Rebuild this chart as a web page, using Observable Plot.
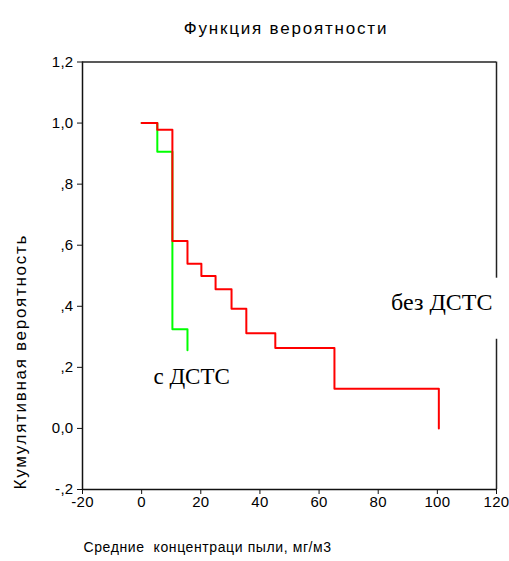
<!DOCTYPE html>
<html><head><meta charset="utf-8">
<script src="https://cdn.jsdelivr.net/npm/d3@7"></script>
<script src="https://cdn.jsdelivr.net/npm/@observablehq/plot@0.6"></script>
<style>body{margin:0;background:#fff;} #chart svg{display:block;}</style>
</head><body><div id="chart"></div>
<script>
// Series: "без ДСТС" (red) and "с ДСТС" (green), step-after survival curves
const redX = [0, 5.3, 10.4, 15.5, 20.2, 25.0, 30.4, 35.4, 45.2, 65.2, 100.5];
const redY = [1.0, 0.978, 0.614, 0.539, 0.499, 0.456, 0.392, 0.312, 0.263, 0.130, 0.0];
const greenX = [0, 5.3, 10.4, 15.5];
const greenY = [1.0, 0.906, 0.325, 0.256];
const seriesNames = ["без ДСТС", "с ДСТС"];
const xTicks = [-20, 0, 20, 40, 60, 80, 100, 120];
const xTickLabels = ["-20", "0", "20", "40", "60", "80", "100", "120"];
const yTicks = [-0.2, 0, 0.2, 0.4, 0.6, 0.8, 1.0, 1.2];
const yTickLabels = ["-,2", "0,0", ",2", ",4", ",6", ",8", "1,0", "1,2"];
const titleText = "Функция вероятности";
const xLabel = "Средние  концентраци пыли, мг/м3";
const yLabel = "Кумулятивная вероятность";

const red = redX.map((x, i) => ({x, y: redY[i]}));
const green = greenX.map((x, i) => ({x, y: greenY[i]}));
const xFmt = d => xTickLabels[xTicks.indexOf(d)];
const yFmt = d => yTickLabels[yTicks.findIndex(t => Math.abs(t - d) < 1e-9)];
const sans = "'Liberation Sans', Arial, sans-serif";
const serif = "'Liberation Serif', 'Times New Roman', serif";

const plot = Plot.plot({
  width: 509, height: 561,
  marginLeft: 82, marginRight: 13, marginTop: 61.5, marginBottom: 72,
  style: {fontFamily: sans, background: "#fff"},
  x: {domain: [-20, 120]},
  y: {domain: [-0.2, 1.2]},
  marks: [
    Plot.axisX({ticks: xTicks, tickFormat: xFmt, tickSize: 5, tickPadding: 2, label: null, fontSize: 15, stroke: "#111"}),
    Plot.axisY({ticks: yTicks, tickFormat: yFmt, tickSize: 5, tickPadding: 4, label: null, fontSize: 15, stroke: "#111"}),
    Plot.ruleY([-0.2], {stroke: "#111", strokeWidth: 1.5}),
    Plot.ruleX([-20], {stroke: "#111", strokeWidth: 1.5}),
    Plot.ruleY([1.2], {stroke: "#222", strokeWidth: 1.5}),
    Plot.ruleX([120], {y1: -0.2, y2: 0.292, stroke: "#222", strokeWidth: 1.5}),
    Plot.ruleX([120], {y1: 0.492, y2: 1.2, stroke: "#222", strokeWidth: 1.5}),
    Plot.line(green, {x: "x", y: "y", curve: "step-after", stroke: "#00ff00", strokeWidth: 2}),
    Plot.line(red, {x: "x", y: "y", curve: "step-after", stroke: "#ff0000", strokeWidth: 2}),
    Plot.text([seriesNames[0]], {x: 101.5, y: 0.414, text: d => d, fontFamily: serif, fontSize: 24, fill: "#000"}),
    Plot.text([seriesNames[1]], {x: 16.9, y: 0.171, text: d => d, fontFamily: serif, fontSize: 23, fill: "#000"}),
    Plot.text([titleText], {frameAnchor: "top", dx: -3.5, dy: -33, text: d => d, fontSize: 17, fill: "#000", lineAnchor: "middle"}),
    Plot.text([yLabel], {frameAnchor: "left", dx: -62, dy: 86, rotate: -90, textAnchor: "middle", text: d => d, fontSize: 17, fill: "#000"}),
    Plot.text([xLabel], {frameAnchor: "bottom-left", dx: 1, dy: 58, textAnchor: "start", text: d => d, fontSize: 14, fill: "#000", lineAnchor: "middle"})
  ]
});
const svg = d3.select(plot);
const spacing = new Map([[titleText, "1.8px"], [yLabel, "1.7px"], [xLabel, "0.6px"]]);
svg.selectAll("text").each(function () {
  const s = spacing.get(this.textContent);
  if (s) d3.select(this).style("letter-spacing", s);
});
svg.selectAll('g[aria-label="x-axis tick label"] text, g[aria-label="y-axis tick label"] text').style("letter-spacing", "0.3px");
document.getElementById("chart").append(plot);
</script>
</body></html>
